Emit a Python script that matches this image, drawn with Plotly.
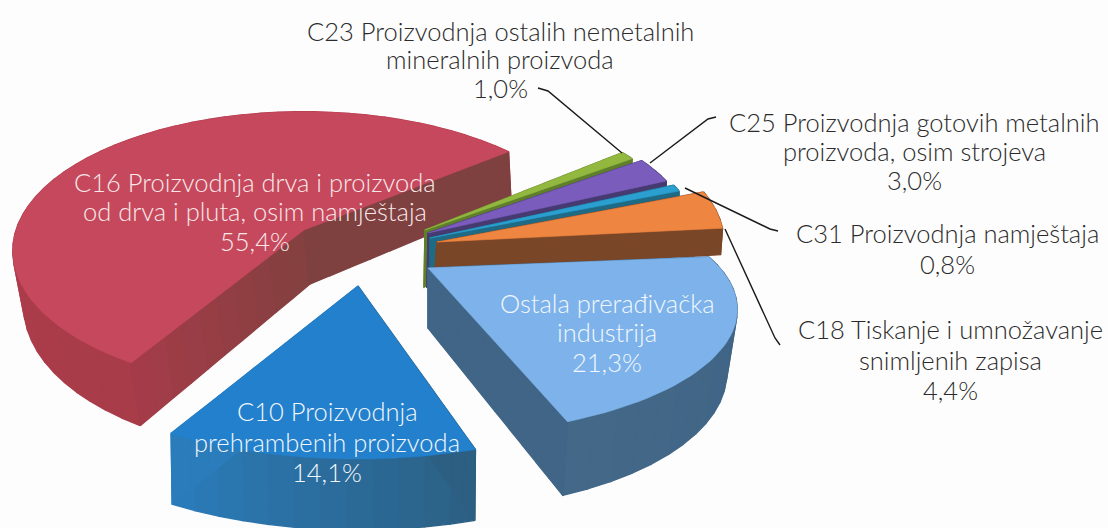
import math
import plotly.graph_objects as go

categories = ["C23", "C25", "C31", "C18", "Ostala", "C10", "C16"]
values = [1.0, 3.0, 0.8, 4.4, 21.3, 14.1, 55.4]

label_lines = {
    "C23": ["C23 Proizvodnja ostalih nemetalnih", "mineralnih proizvoda", "1,0%"],
    "C25": ["C25 Proizvodnja gotovih metalnih", "proizvoda, osim strojeva", "3,0%"],
    "C31": ["C31 Proizvodnja namještaja", "0,8%"],
    "C18": ["C18 Tiskanje i umnožavanje", "snimljenih zapisa", "4,4%"],
    "Ostala": ["Ostala prerađivačka", "industrija", "21,3%"],
    "C10": ["C10 Proizvodnja", "prehrambenih proizvoda", "14,1%"],
    "C16": ["C16 Proizvodnja drva i proizvoda", "od drva i pluta, osim namještaja", "55,4%"],
}

# ---- layout and style, separate from the data ----
START_DEG = 51.0
W, H = 1108, 528
# top: apex x, y, rx, ry, p   bottom: same
GEOM = {
    "C16": ((304, 230, 288, 136, 0.15), (310, 284, 283, 145, 0.15)),
    "C23": ((425, 230, 254, 123, 0.0), (424, 287, 254, 180, 0.0)),
    "C25": ((428, 233, 262, 125, 0.0), (427, 287, 262, 180, 0.0)),
    "C31": ((430, 238, 268, 127, 0.0), (430, 287, 268, 215, 0.0)),
    "C18": ((437, 242, 287, 135, 0.0), (435, 270, 287, 150, 0.0)),
    "Ostala": ((428, 268, 292, 112, 0.33), (428, 328, 282, 122, 0.33)),
    "C10": ((358, 286, 357, 173, 0.0), (358, 356, 355, 174, 0.0)),
}
COLORS = {
    # top, rim start colour, rim end colour, start face A, B, end face A, B
    "C16": ("#c6485c", "#a83c49", "#b83b4e", "#a53c49", "#83403f", "#7f4040", "#7f4040"),
    "C23": ("#93b83f", "#5f7f2a", "#5f7f2a", "#6a8c2e", "#6a8c2e", "#5f7f2a", "#5f7f2a"),
    "C25": ("#7a5cbc", "#463a70", "#463a70", "#463a70", "#463a70", "#463a70", "#463a70"),
    "C31": ("#2a9fd0", "#1f6a85", "#1f6a85", "#1f6a85", "#1f6a85", "#1f6a85", "#1f6a85"),
    "C18": ("#ee8540", "#7a4628", "#7a4628", "#7a4628", "#7a4628", "#7a4628", "#7a4628"),
    "Ostala": ("#7db3ea", "#3d6283", "#436888", "#416586", "#416586", "#416586", "#416586"),
    "C10": ("#2280cc", "#2c5f82", "#2a7cbb", "#2c5f82", "#2c5f82", "#2a7cbb", "#2a7cbb"),
}
DRAW_ORDER = ["C16", "C23", "C25", "C31", "C18", "Ostala", "C10"]

LABEL_POS = {
    "C23": (500, [31, 59, 88], "#2b2b2b"),
    "C25": (914, [122, 151, 180], "#2b2b2b"),
    "C31": (947, [233, 264], "#2b2b2b"),
    "C18": (950, [329, 360, 390], "#2b2b2b"),
    "Ostala": (607, [303, 332, 362], "#f2f7fd"),
    "C10": (327, [411, 442, 472], "#f2f7fd"),
    "C16": (255, [182, 211, 241], "#f8e8ea"),
}
LEADERS = [
    ([538, 548, 622], [88, 91, 153]),
    ([716, 708, 650], [117, 119, 163]),
    ([778, 770, 685], [231, 229, 188]),
    ([780, 775, 725], [345, 338, 229]),
]


def hex2rgb(c):
    return tuple(int(c[i:i + 2], 16) for i in (1, 3, 5))


def mix(a, b, t):
    ra, rb = hex2rgb(a), hex2rgb(b)
    return "rgb(%d,%d,%d)" % tuple(round(x + (y - x) * t) for x, y in zip(ra, rb))


def pt(theta, g):
    ax, ay, rx, ry, p = g
    s, c = math.sin(theta), math.cos(theta)
    w = 1 + p * c
    return ax + rx * s / w, ay - ry * c / w


def poly(fig, pts, color, lw=1.4):
    xs = [q[0] for q in pts] + [pts[0][0]]
    ys = [q[1] for q in pts] + [pts[0][1]]
    fig.add_trace(go.Scatter(x=xs, y=ys, mode="lines", fill="toself", fillcolor=color,
                             line=dict(color=color, width=lw), hoverinfo="skip", showlegend=False))


# angles follow from the values
spans = {}
cum = START_DEG
for cat, val in zip(categories, values):
    spans[cat] = (math.radians(cum), math.radians(cum + val * 3.6))
    cum += val * 3.6

fig = go.Figure()
for cat in DRAW_ORDER:
    t1, t2 = spans[cat]
    gt, gb = GEOM[cat]
    top, rim_a, rim_b, s_a, s_b, e_a, e_b = COLORS[cat]
    n = max(4, int((t2 - t1) / math.radians(4)))
    # outer wall, in strips so that the shade can drift along it
    for i in range(n):
        a = t1 + (t2 - t1) * i / n
        b = t1 + (t2 - t1) * (i + 1) / n
        poly(fig, [pt(a, gt), pt(b, gt), pt(b, gb), pt(a, gb)], mix(rim_a, rim_b, (i + 0.5) / n))
    # cut faces
    for theta, c_a, c_b in ((t1, s_a, s_b), (t2, e_a, e_b)):
        tip_t, tip_b = pt(theta, gt), pt(theta, gb)
        at, ab = (gt[0], gt[1]), (gb[0], gb[1])
        m = 10
        for i in range(m):
            u, v = i / m, (i + 1) / m
            q = lambda P, R, f: (P[0] + (R[0] - P[0]) * f, P[1] + (R[1] - P[1]) * f)
            poly(fig, [q(tip_t, at, u), q(tip_t, at, v), q(tip_b, ab, v), q(tip_b, ab, u)],
                 mix(c_a, c_b, (i + 0.5) / m))
    # top face
    steps = max(3, int((t2 - t1) / math.radians(1.5)))
    arc = [pt(t1 + (t2 - t1) * i / steps, gt) for i in range(steps + 1)]
    poly(fig, [(gt[0], gt[1])] + arc, top, lw=0.6)

for xs, ys in LEADERS:
    fig.add_trace(go.Scatter(x=xs, y=ys, mode="lines", line=dict(color="#1a1a1a", width=1.4),
                             hoverinfo="skip", showlegend=False))

for cat, lines in label_lines.items():
    cx, ys, col = LABEL_POS[cat]
    for text, y in zip(lines, ys):
        fig.add_annotation(x=cx, y=y, text=text, showarrow=False, xanchor="center", yanchor="middle",
                           font=dict(family="Lato Light, Lato, sans-serif", size=25.5, color=col))

fig.update_layout(width=W, height=H, margin=dict(l=0, r=0, t=0, b=0), autosize=False,
                  paper_bgcolor="#fdfdfd", plot_bgcolor="#fdfdfd", showlegend=False,
                  xaxis=dict(range=[0, W], visible=False, fixedrange=True),
                  yaxis=dict(range=[H, 0], visible=False, fixedrange=True))
fig.write_html("out.html", post_script="document.body.style.margin='0';document.body.style.overflow='hidden';",
               config={"displayModeBar": False})
